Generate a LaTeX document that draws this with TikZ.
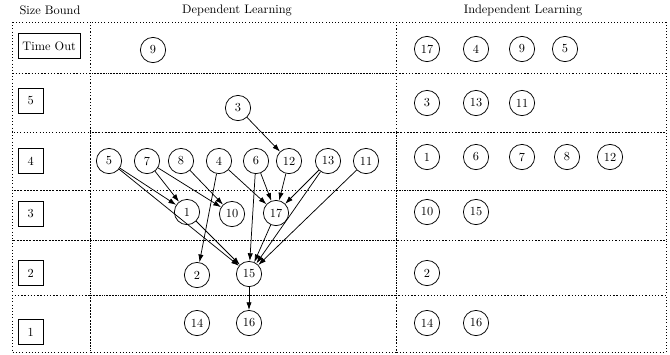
\documentclass[tikz,border=0pt]{standalone}
\usetikzlibrary{arrows.meta}
\tikzset{
  sizebox/.style={draw,minimum size=0.7cm,anchor=west},
  task/.style={draw,circle,minimum size=0.72cm,inner sep=0pt},
  cell/.style={dotted},
}
\begin{document}
\begin{tikzpicture}[x=0.0285cm,y=-0.0285cm,semithick,>={Latex[length=2.2mm,width=1.5mm]}]
\useasboundingbox (0,0) rectangle (670,354);
% grid
\foreach \t/\b in {22/73,73/132,132/190,190/240,240/295,295/352}{
  \draw[cell] (12,\t) rectangle (90,\b);
  \draw[cell] (90,\t) rectangle (396,\b);
  \draw[cell] (396,\t) rectangle (666,\b);
}
\node (hsize) at (50,10) {Size Bound};
\node (hdep) at (237,10) {Dependent Learning};
\node (hind) at (523,10) {Independent Learning};
% size bounds
\node[sizebox] (sto) at (18,46) {Time Out};
\node[sizebox] (s5) at (18,101) {5};
\node[sizebox] (s4) at (18,161) {4};
\node[sizebox] (s3) at (18,214) {3};
\node[sizebox] (s2) at (18,273) {2};
\node[sizebox] (s1) at (18,332) {1};
% dependent
\node[task] (d9) at (153,50) {9};
\node[task] (d3) at (238,108) {3};
\node[task] (d5) at (109,161) {5};
\node[task] (d7) at (147,161) {7};
\node[task] (d8) at (181,161) {8};
\node[task] (d4) at (219,161) {4};
\node[task] (d6) at (256,161) {6};
\node[task] (d12) at (289,161) {12};
\node[task] (d13) at (328,161) {13};
\node[task] (d11) at (366,161) {11};
\node[task] (d1) at (187,212) {1};
\node[task] (d10) at (232,214) {10};
\node[task] (d17) at (276,213) {17};
\node[task] (d2) at (197,275) {2};
\node[task] (d15) at (249,274) {15};
\node[task] (d14) at (197,323) {14};
\node[task] (d16) at (249,323) {16};
\foreach \a/\b in {3/12,5/1,5/15,7/1,7/10,8/10,4/2,4/17,6/15,6/17,12/17,13/17,13/15,11/15,1/15,17/15,15/16}
  \draw[->] (d\a) -- (d\b);
% independent
\node[task] (i17) at (427,49) {17};
\node[task] (i4) at (476,49) {4};
\node[task] (i9) at (522,49) {9};
\node[task] (i5) at (565,49) {5};
\node[task] (i3) at (427,103) {3};
\node[task] (i13) at (476,103) {13};
\node[task] (i11) at (522,103) {11};
\node[task] (i1) at (427,157) {1};
\node[task] (i6) at (476,157) {6};
\node[task] (i7) at (522,157) {7};
\node[task] (i8) at (567,157) {8};
\node[task] (i12) at (610,157) {12};
\node[task] (i10) at (427,212) {10};
\node[task] (i15) at (476,212) {15};
\node[task] (i2) at (427,273) {2};
\node[task] (i14) at (427,323) {14};
\node[task] (i16) at (476,323) {16};
\end{tikzpicture}
\end{document}
